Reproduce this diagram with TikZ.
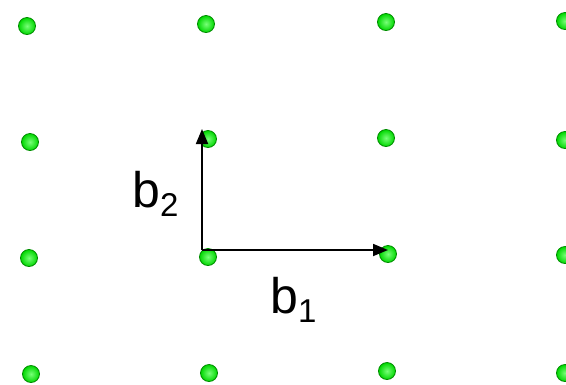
\documentclass[tikz,border=0pt]{standalone}
\usepackage{fontspec}
\setmainfont{Liberation Sans}
\usetikzlibrary{arrows.meta}
\definecolor{dotin}{RGB}{120,255,120}
\definecolor{dotout}{RGB}{0,215,0}
\definecolor{dotedge}{RGB}{0,140,0}
\tikzset{
  latdot/.style={circle, minimum size=17pt, inner sep=0pt, draw=dotedge, line width=0.8pt,
    inner color=dotin, outer color=dotout},
  vecarrow/.style={line width=1.8pt, -{Triangle[length=15pt,width=12pt]}},
  lbl/.style={font=\fontsize{50}{60}\selectfont, inner sep=0pt, anchor=base west}
}
\newcommand{\subtxt}[1]{\raisebox{-9pt}{\fontsize{33}{38}\selectfont #1}}
\begin{document}
\begin{tikzpicture}[x=1pt,y=-1pt]
\useasboundingbox (0,0) rectangle (566,384);
% row 1
\node[latdot] (d11) at (27,26) {};
\node[latdot] (d12) at (206,24) {};
\node[latdot] (d13) at (386,22) {};
\node[latdot] (d14) at (565,21) {};
% row 2
\node[latdot] (d21) at (30,142) {};
\node[latdot] (d22) at (208,139) {};
\node[latdot] (d23) at (386,138) {};
\node[latdot] (d24) at (565,140) {};
% row 3
\node[latdot] (d31) at (29,258) {};
\node[latdot] (d32) at (208,257) {};
\node[latdot] (d33) at (388,254) {};
\node[latdot] (d34) at (565,255) {};
% row 4
\node[latdot] (d41) at (31,374) {};
\node[latdot] (d42) at (209,373) {};
\node[latdot] (d43) at (387,371) {};
\node[latdot] (d44) at (565,373) {};
% vectors
\coordinate (o) at (202,250);
\coordinate (t2) at (202,129);
\coordinate (t1) at (388,250);
\draw[vecarrow] (o) -- (t2);
\draw[vecarrow] (o) -- (t1);
% labels
\node[lbl] (b2) at (132,207) {b\subtxt{2}};
\node[lbl] (b1) at (270,313) {b\subtxt{1}};
\end{tikzpicture}
\end{document}
